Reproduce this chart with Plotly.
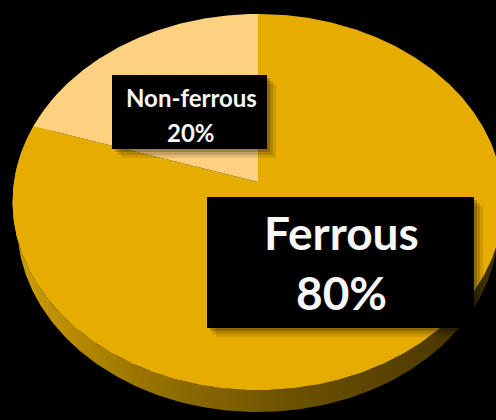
import numpy as np
import plotly.graph_objects as go

# Share of scrap metal by type
labels = ["Ferrous", "Non-ferrous"]
values = [80, 20]
slice_colors = ["#E6AC00", "#FDD17F"]

W, H = 496, 420

# Perspective view of a tilted disk (unit radius)
SIN_T, COS_T = 0.762, 0.647   # tilt of the disk towards the viewer
DIST = 6.08                    # camera distance
THICK = 0.152                  # disk thickness


def project(theta_deg, r=1.0, h=0.0):
    th = np.radians(theta_deg)
    x = r * np.sin(th)
    z = r * np.cos(th)
    u = z * SIN_T + h * COS_T
    w = DIST + z * COS_T - h * SIN_T
    return x * DIST / w, u * DIST / w


fig = go.Figure()

# Side wall of the disk (front part), shaded from left to right
th_side = np.linspace(55, 305, 240)
tx, ty = project(th_side)
bx, by = project(th_side[::-1], h=-THICK)
fig.add_trace(go.Scatter(
    x=np.concatenate([tx, bx, tx[:1]]),
    y=np.concatenate([ty, by, ty[:1]]),
    mode="lines", line=dict(width=0), fill="toself",
    fillgradient=dict(type="horizontal",
                      colorscale=[[0.0, "#D09E08"], [0.25, "#9C7600"],
                                  [0.55, "#6E5300"], [0.85, "#503C00"],
                                  [1.0, "#3A2B00"]]),
    hoverinfo="skip", showlegend=False))

# Top face slices, clockwise from 12 o'clock
total = float(sum(values))
start = 0.0
for lab, val, col in zip(labels, values, slice_colors):
    span = val / total * 360.0
    th = np.linspace(start, start + span, max(int(span * 2), 8))
    ax, ay = project(th)
    fig.add_trace(go.Scatter(
        x=np.concatenate([[0.0], ax, [0.0]]),
        y=np.concatenate([[0.0], ay, [0.0]]),
        mode="lines", line=dict(width=0), fill="toself", fillcolor=col,
        name=lab, hoverinfo="name", showlegend=False))
    start += span


def px(x):
    return x / W


def py(y):
    return 1 - y / H


# Label boxes with soft drop shadows
boxes = [(112, 75, 267, 149), (207, 197, 474, 328)]
shapes = []
for (x0, y0, x1, y1) in boxes:
    for k, op in zip((9, 6, 3), (0.10, 0.14, 0.20)):
        shapes.append(dict(type="rect", xref="paper", yref="paper",
                           x0=px(x0 + k), x1=px(x1 + k), y0=py(y1 + k), y1=py(y0 + k),
                           fillcolor="black", opacity=op, line=dict(width=0),
                           layer="above"))
    shapes.append(dict(type="rect", xref="paper", yref="paper",
                       x0=px(x0), x1=px(x1), y0=py(y1), y1=py(y0),
                       fillcolor="black", line=dict(width=0), layer="above"))

font_family = "Lato"
annotations = []
# (text, centre x, centre y, size)
label_lines = [
    (labels[1], 191, 97, 24),
    (f"{values[1]}%", 191, 132, 24),
    (labels[0], 341, 232, 46),
    (f"{values[0]}%", 341, 292, 46),
]
for text, cx, cy, size in label_lines:
    annotations.append(dict(
        text=f"<b>{text}</b>", x=px(cx), y=py(cy), xref="paper", yref="paper",
        xanchor="center", yanchor="middle", showarrow=False,
        font=dict(family=font_family, size=size, color="#F7F7F7")))

x_lo, x_hi = -258 / 244, (W - 258) / 244
y_hi, y_lo = 182 / 244, -(H - 182) / 244

fig.update_layout(
    width=W, height=H, margin=dict(l=0, r=0, t=0, b=0),
    paper_bgcolor="black", plot_bgcolor="black",
    xaxis=dict(range=[x_lo, x_hi], visible=False, fixedrange=True),
    yaxis=dict(range=[y_lo, y_hi], visible=False, fixedrange=True),
    shapes=shapes, annotations=annotations, showlegend=False,
)

fig.write_html("out.html")
